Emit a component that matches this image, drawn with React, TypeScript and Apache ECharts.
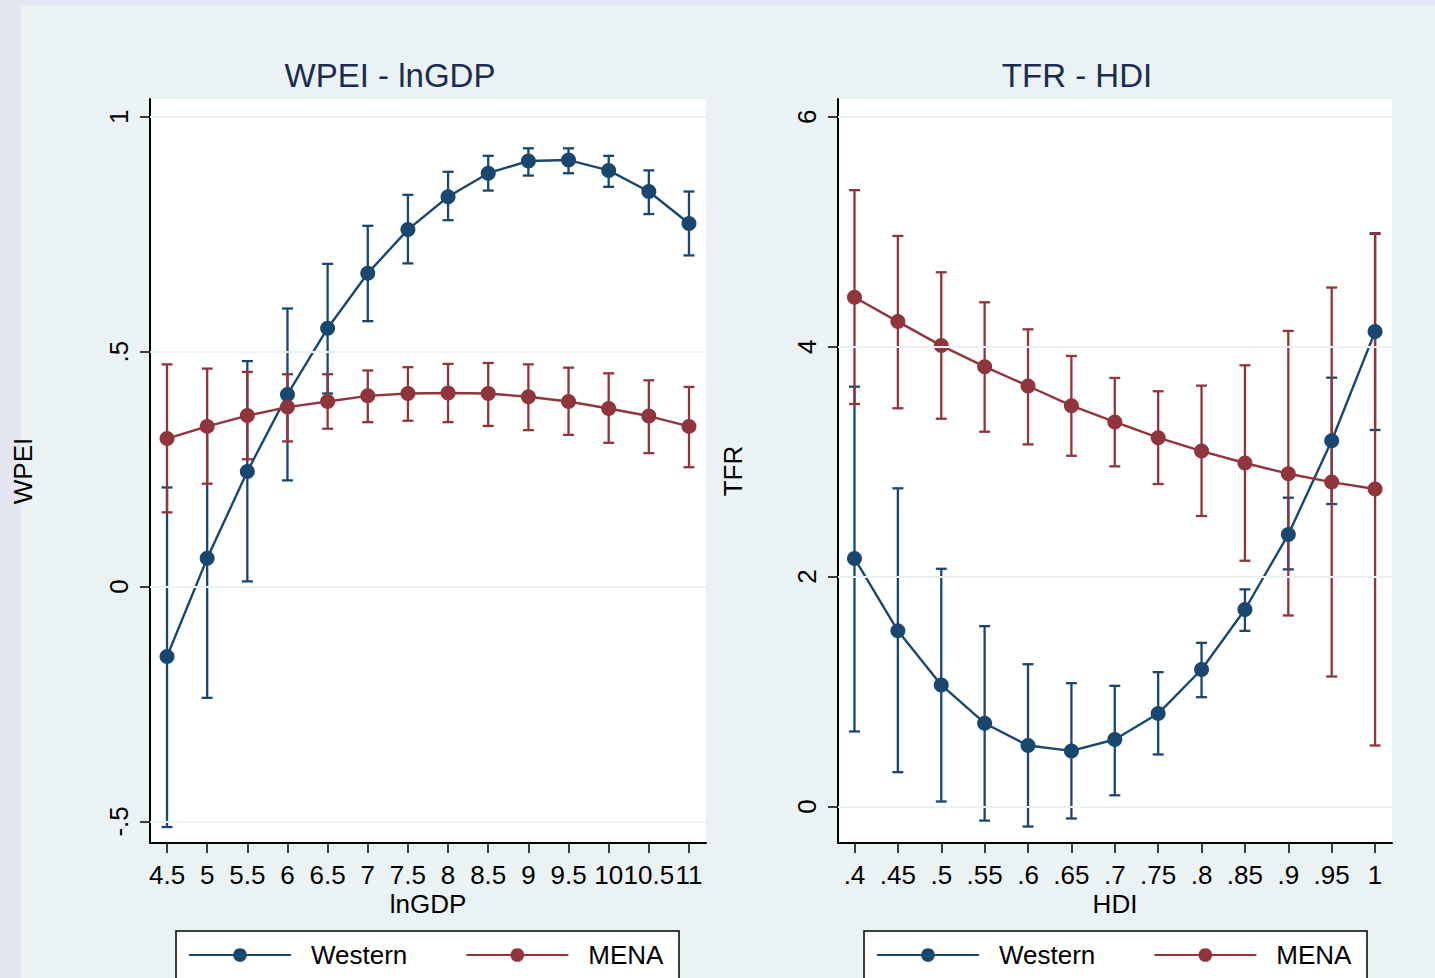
import React, { useEffect, useRef } from "react";
import * as echarts from "echarts";

// ---- data ----
const lngdp = [4.5, 5, 5.5, 6, 6.5, 7, 7.5, 8, 8.5, 9, 9.5, 10, 10.5, 11];
const westernWPEI = [-0.149, 0.06, 0.245, 0.409, 0.55, 0.667, 0.76, 0.83, 0.88, 0.906, 0.908, 0.886, 0.841, 0.773];
const westernWPEILo = [-0.512, -0.237, 0.011, 0.226, 0.411, 0.565, 0.688, 0.78, 0.843, 0.875, 0.88, 0.851, 0.793, 0.705];
const westernWPEIHi = [0.211, 0.35, 0.48, 0.592, 0.687, 0.768, 0.834, 0.883, 0.917, 0.933, 0.933, 0.917, 0.886, 0.841];
const menaWPEI = [0.315, 0.341, 0.364, 0.382, 0.394, 0.406, 0.411, 0.412, 0.411, 0.404, 0.394, 0.379, 0.363, 0.341];
const menaWPEILo = [0.158, 0.219, 0.271, 0.309, 0.336, 0.35, 0.353, 0.35, 0.342, 0.333, 0.323, 0.306, 0.284, 0.254];
const menaWPEIHi = [0.473, 0.464, 0.457, 0.452, 0.452, 0.46, 0.467, 0.474, 0.476, 0.473, 0.466, 0.454, 0.439, 0.425];

const hdi = [0.4, 0.45, 0.5, 0.55, 0.6, 0.65, 0.7, 0.75, 0.8, 0.85, 0.9, 0.95, 1];
const westernTFR = [2.158, 1.528, 1.058, 0.725, 0.531, 0.484, 0.583, 0.809, 1.192, 1.714, 2.367, 3.182, 4.131];
const westernTFRLo = [0.653, 0.299, 0.044, -0.122, -0.174, -0.104, 0.098, 0.453, 0.951, 1.528, 2.063, 2.631, 3.275];
const westernTFRHi = [3.652, 2.768, 2.068, 1.569, 1.238, 1.073, 1.05, 1.169, 1.424, 1.889, 2.686, 3.73, 4.981];
const menaTFR = [4.43, 4.218, 4.009, 3.826, 3.658, 3.487, 3.345, 3.208, 3.092, 2.988, 2.895, 2.822, 2.762];
const menaTFRLo = [3.501, 3.464, 3.373, 3.26, 3.15, 3.051, 2.959, 2.805, 2.527, 2.138, 1.662, 1.131, 0.531];
const menaTFRHi = [5.361, 4.963, 4.647, 4.386, 4.151, 3.919, 3.728, 3.612, 3.661, 3.838, 4.137, 4.514, 4.987];

const wpeiTicks = [-0.5, 0, 0.5, 1];
const tfrTicks = [0, 2, 4, 6];

const titles = ["WPEI - lnGDP", "TFR - HDI"];
const seriesNames = ["Western", "MENA"];

// ---- styles ----
const NAVY = "#1a476f";
const MAROON = "#90353b";
const FONT = "Liberation Sans, Arial, sans-serif";
const INNER_BG = "#eaf2f3";
const OUTER_BG = "#e3e5f0";

const fmt = (v: number) => {
  const s = String(Math.round(v * 1000) / 1000);
  return s.replace(/^(-?)0\./, "$1.");
};

const pairs = (xs: number[], ys: number[]) => xs.map((x, i) => [x, ys[i]]);
const triples = (xs: number[], lo: number[], hi: number[]) => xs.map((x, i) => [x, lo[i], hi[i]]);

function errBars(name: string, color: string, idx: number, data: number[][]) {
  return {
    name,
    type: "custom",
    xAxisIndex: idx,
    yAxisIndex: idx,
    z: 2,
    silent: true,
    encode: { x: 0, y: [1, 2] },
    data,
    renderItem: (params: any, api: any) => {
      const x = api.value(0);
      const p1 = api.coord([x, api.value(2)]);
      const p2 = api.coord([x, api.value(1)]);
      const w = 5.5;
      const style = { stroke: color, lineWidth: 2.3, fill: null };
      return {
        type: "group",
        children: [
          { type: "line", shape: { x1: p1[0], y1: p1[1], x2: p2[0], y2: p2[1] }, style },
          { type: "line", shape: { x1: p1[0] - w, y1: p1[1], x2: p1[0] + w, y2: p1[1] }, style },
          { type: "line", shape: { x1: p2[0] - w, y1: p2[1], x2: p2[0] + w, y2: p2[1] }, style },
        ],
      };
    },
  };
}

function lineSeries(name: string, color: string, idx: number, data: number[][]) {
  return {
    name,
    type: "line",
    xAxisIndex: idx,
    yAxisIndex: idx,
    z: 3,
    data,
    symbol: "circle",
    symbolSize: 15,
    showSymbol: true,
    lineStyle: { color, width: 2.4 },
    itemStyle: { color },
  };
}

function gridLines(idx: number, ticks: number[]) {
  return {
    name: "grid" + idx,
    type: "line",
    xAxisIndex: idx,
    yAxisIndex: idx,
    z: 1,
    data: [],
    silent: true,
    markLine: {
      silent: true,
      symbol: ["none", "none"],
      label: { show: false },
      lineStyle: { color: INNER_BG, width: 2, type: "solid" },
      data: ticks.map((t) => ({ yAxis: t })),
    },
  };
}

const axisCommon = {
  type: "value",
  nameMoveOverlap: false,
  axisLine: { show: true, onZero: false, lineStyle: { color: "#000", width: 2 } },
  axisTick: { show: true, length: 10, lineStyle: { color: "#000", width: 1.5 } },
  splitLine: { show: false },
  nameTextStyle: { fontSize: 26, fontFamily: FONT, color: "#000" },
};

const xNameStyle = { fontSize: 26, fontFamily: FONT, color: "#000", lineHeight: 20 };

export default function App() {
  const ref = useRef<HTMLDivElement>(null);
  useEffect(() => {
    document.body.style.margin = "0";
    const chart = echarts.init(ref.current!, null, { renderer: "svg" });
    const labelStyle = { fontSize: 26, fontFamily: FONT, color: "#000" };
    const xLabelStyle = { ...labelStyle, lineHeight: 20 };
    const option: any = {
      animation: false,
      backgroundColor: INNER_BG,
      grid: [
        { left: 150, top: 99, width: 556, height: 744, show: true, backgroundColor: "#fff", borderWidth: 0 },
        { left: 838, top: 99, width: 554, height: 744, show: true, backgroundColor: "#fff", borderWidth: 0 },
      ],
      xAxis: [
        {
          ...axisCommon,
          gridIndex: 0,
          min: 4.288,
          max: 11.212,
          name: "lnGDP",
          nameLocation: "middle",
          nameGap: 51,
          nameTextStyle: xNameStyle,
          axisTick: { ...axisCommon.axisTick, customValues: lngdp },
          axisLabel: { ...xLabelStyle, margin: 22, customValues: lngdp, formatter: fmt },
        },
        {
          ...axisCommon,
          gridIndex: 1,
          min: 0.381,
          max: 1.0195,
          name: "HDI",
          nameLocation: "middle",
          nameGap: 51,
          nameTextStyle: xNameStyle,
          axisTick: { ...axisCommon.axisTick, customValues: hdi },
          axisLabel: { ...xLabelStyle, margin: 22, customValues: hdi, formatter: fmt },
        },
      ],
      yAxis: [
        {
          ...axisCommon,
          gridIndex: 0,
          min: -0.546,
          max: 1.038,
          name: "WPEI",
          nameLocation: "middle",
          nameGap: 114,
          axisTick: { ...axisCommon.axisTick, customValues: wpeiTicks },
          axisLabel: { ...labelStyle, rotate: 90, margin: 18, customValues: wpeiTicks, formatter: fmt },
        },
        {
          ...axisCommon,
          gridIndex: 1,
          min: -0.317,
          max: 6.154,
          name: "TFR",
          nameLocation: "middle",
          nameGap: 92,
          axisTick: { ...axisCommon.axisTick, customValues: tfrTicks },
          axisLabel: { ...labelStyle, rotate: 90, margin: 18, customValues: tfrTicks, formatter: fmt },
        },
      ],
      legend: [0, 1].map((i) => ({
        data: seriesNames,
        left: i === 0 ? 188 : 876,
        top: 942,
        padding: 0,
        itemWidth: 102,
        itemHeight: 17,
        itemGap: 58,
        selectedMode: false,
        textStyle: { fontSize: 26, fontFamily: FONT, color: "#000", padding: [0, 0, 0, 15] },
      })),
      graphic: [
        { type: "rect", shape: { x: 0, y: 0, width: 21, height: 978 }, style: { fill: OUTER_BG }, silent: true },
        { type: "rect", shape: { x: 0, y: 0, width: 1435, height: 5 }, style: { fill: OUTER_BG }, silent: true },
        { type: "rect", shape: { x: 176, y: 931, width: 503, height: 70 }, style: { fill: "#fff", stroke: "#000", lineWidth: 1.5 }, silent: true },
        { type: "rect", shape: { x: 864, y: 931, width: 503, height: 70 }, style: { fill: "#fff", stroke: "#000", lineWidth: 1.5 }, silent: true },
        {
          type: "text", x: 390, y: 75, silent: true,
          style: { text: titles[0], fontSize: 33, fontFamily: FONT, fill: "#1c2b52", textAlign: "center", textVerticalAlign: "middle" },
        },
        {
          type: "text", x: 1077, y: 75, silent: true,
          style: { text: titles[1], fontSize: 33, fontFamily: FONT, fill: "#1c2b52", textAlign: "center", textVerticalAlign: "middle" },
        },
      ],
      series: [
        gridLines(0, wpeiTicks),
        gridLines(1, tfrTicks),
        errBars("Western CI", NAVY, 0, triples(lngdp, westernWPEILo, westernWPEIHi)),
        errBars("MENA CI", MAROON, 0, triples(lngdp, menaWPEILo, menaWPEIHi)),
        lineSeries(seriesNames[0], NAVY, 0, pairs(lngdp, westernWPEI)),
        lineSeries(seriesNames[1], MAROON, 0, pairs(lngdp, menaWPEI)),
        errBars("Western CI ", NAVY, 1, triples(hdi, westernTFRLo, westernTFRHi)),
        errBars("MENA CI ", MAROON, 1, triples(hdi, menaTFRLo, menaTFRHi)),
        lineSeries(seriesNames[0], NAVY, 1, pairs(hdi, westernTFR)),
        lineSeries(seriesNames[1], MAROON, 1, pairs(hdi, menaTFR)),
      ],
    };
    chart.setOption(option);
    return () => chart.dispose();
  }, []);
  return <div ref={ref} style={{ width: 1435, height: 978 }} />;
}
